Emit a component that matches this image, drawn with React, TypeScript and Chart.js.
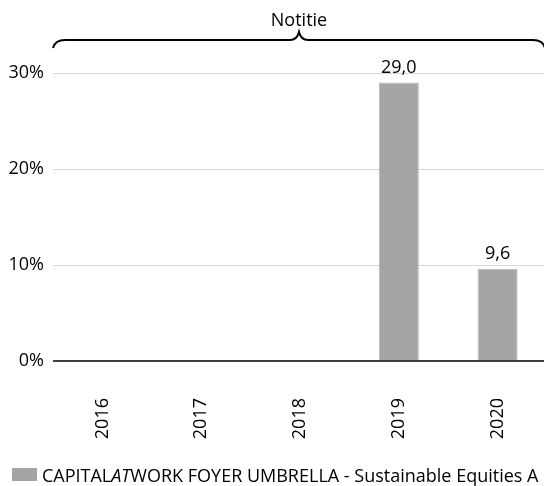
import React, { useEffect, useRef } from "react";
import { Chart, registerables } from "chart.js";

Chart.register(...registerables);

const categories = ["2016", "2017", "2018", "2019", "2020"];
const seriesValues: (number | null)[] = [null, null, null, 29.0, 9.6];
const yTicks = [0, 10, 20, 30];
const braceLabel = "Notitie";

const FONT = "'Open Sans', sans-serif";

const bracePlugin = {
  id: "brace",
  afterDraw(chart: any) {
    const ctx = chart.ctx;
    const { left, right } = chart.chartArea;
    const L = left;
    const R = right - 2;
    const C = (L + R) / 2;
    ctx.save();
    ctx.strokeStyle = "#000";
    ctx.lineWidth = 2;
    ctx.beginPath();
    ctx.moveTo(L, 48);
    ctx.quadraticCurveTo(L + 2, 40, L + 12, 40);
    ctx.lineTo(C - 9, 40);
    ctx.quadraticCurveTo(C - 2, 40, C, 32);
    ctx.quadraticCurveTo(C + 2, 40, C + 9, 40);
    ctx.lineTo(R - 12, 40);
    ctx.quadraticCurveTo(R - 2, 40, R, 48);
    ctx.stroke();
    ctx.fillStyle = "#000";
    ctx.font = `18px ${FONT}`;
    ctx.textAlign = "center";
    ctx.textBaseline = "alphabetic";
    ctx.fillText(braceLabel, C, 26);
    ctx.restore();
  },
};

const valueLabelPlugin = {
  id: "valueLabels",
  afterDatasetsDraw(chart: any) {
    const ctx = chart.ctx;
    const meta = chart.getDatasetMeta(0);
    ctx.save();
    ctx.fillStyle = "#000";
    ctx.font = `18px ${FONT}`;
    ctx.textAlign = "center";
    ctx.textBaseline = "alphabetic";
    meta.data.forEach((bar: any, i: number) => {
      const v = seriesValues[i];
      if (v === null || v === undefined) return;
      ctx.fillText(v.toFixed(1).replace(".", ","), bar.x, bar.y - 10);
    });
    ctx.restore();
  },
};

export default function App() {
  const ref = useRef<HTMLCanvasElement | null>(null);

  useEffect(() => {
    if (!ref.current) return;
    const chart = new Chart(ref.current, {
      type: "bar",
      data: {
        labels: categories,
        datasets: [
          {
            label: "CAPITALATWORK FOYER UMBRELLA - Sustainable Equities A",
            data: seriesValues,
            backgroundColor: "#a5a5a5",
            borderColor: "#b4b4b4",
            borderWidth: 1,
            barPercentage: 0.405,
            categoryPercentage: 1,
          },
        ],
      },
      options: {
        responsive: false,
        animation: false,
        devicePixelRatio: 1,
        layout: { padding: { top: 73, left: 0, right: 0, bottom: 47 } },
        plugins: {
          legend: { display: false },
          tooltip: { enabled: false },
        },
        scales: {
          x: {
            afterFit(scale: any) {
              scale.height = 78;
              scale.paddingLeft = 0;
              scale.paddingRight = 0;
            },
            grid: { display: false, drawTicks: false },
            border: { display: false },
            ticks: {
              minRotation: 90,
              maxRotation: 90,
              padding: 37,
              color: "#000",
              font: { family: FONT, size: 18 },
            },
          },
          y: {
            min: 0,
            max: 30,
            afterFit(scale: any) {
              scale.width = 53;
              scale.paddingTop = 0;
              scale.paddingBottom = 0;
            },
            afterBuildTicks(scale: any) {
              scale.ticks = yTicks.map((v) => ({ value: v }));
            },
            grid: {
              drawTicks: false,
              color: (c: any) => (c.tick && c.tick.value === 0 ? "#404040" : "#d9d9d9"),
              lineWidth: (c: any) => (c.tick && c.tick.value === 0 ? 2 : 1),
            },
            border: { display: false },
            ticks: {
              padding: 9,
              color: "#000",
              font: { family: FONT, size: 18 },
              callback: (v: any) => `${v}%`,
            },
          },
        },
      },
      plugins: [bracePlugin, valueLabelPlugin],
    });
    return () => chart.destroy();
  }, []);

  return (
    <div
      style={{
        position: "absolute",
        left: 0,
        top: 0,
        width: 544,
        height: 486,
        overflow: "hidden",
        background: "#fff",
      }}
    >
      <canvas ref={ref} width={547} height={486} style={{ display: "block" }} />
      <div
        style={{
          position: "absolute",
          left: 12,
          top: 468,
          width: 25,
          height: 13,
          background: "#a5a5a5",
        }}
      />
      <div
        style={{
          position: "absolute",
          left: 42,
          top: 463,
          height: 24,
          lineHeight: "24px",
          whiteSpace: "nowrap",
          fontFamily: FONT,
          fontSize: 18,
          color: "#000",
        }}
      >
        CAPITAL<i>AT</i>WORK FOYER UMBRELLA - Sustainable Equities A
      </div>
    </div>
  );
}
